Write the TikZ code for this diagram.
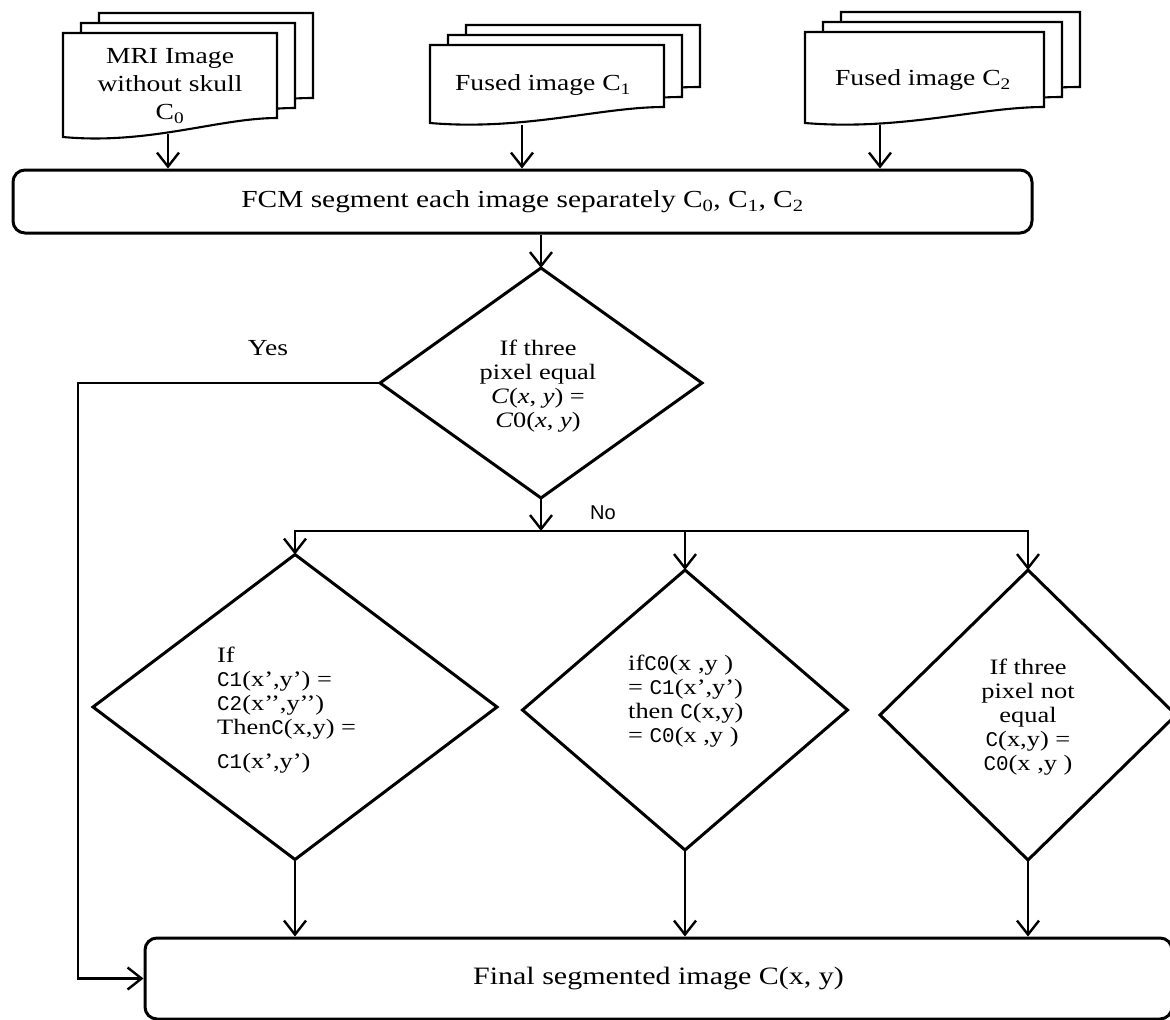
\documentclass[tikz,border=0pt]{standalone}
\usepackage{fontspec}
\setmainfont[FakeStretch=1.2]{Liberation Serif}
\newfontfamily\labelsans{Liberation Sans}
\newfontfamily\codefont[Scale=0.95]{Liberation Mono}
\newcommand\cdf[1]{{\codefont #1}}
\usetikzlibrary{arrows.meta,shapes.geometric}

% one sheet of a stacked-document symbol: left, top, right, bottom-left, bottom-right
\newcommand\pagesheet[5]{%
  \pgfmathsetmacro\wavea{#3-0.27*(#3-#1)}%
  \pgfmathsetmacro\waveb{#1+0.40*(#3-#1)}%
  \pgfmathsetmacro\wavelow{#4+8}%
  \draw[docline] (#1,#2) -- (#3,#2) -- (#3,#5)
    .. controls (\wavea,#5) and (\waveb,\wavelow) .. (#1,#4) -- cycle;
}
% three stacked sheets, back to front
\newcommand\docstack[5]{%
  \pagesheet{#1+36}{#2-20}{#3+36}{#4-20}{#5-20}%
  \pagesheet{#1+18}{#2-10}{#3+18}{#4-10}{#5-10}%
  \pagesheet{#1}{#2}{#3}{#4}{#5}%
}

\begin{document}
\begin{tikzpicture}[x=1pt,y=-1pt,
  docline/.style={draw=black,line width=2.1pt,fill=white,line join=miter},
  doctext/.style={align=center,inner sep=0pt,font=\fontsize{23}{28}\selectfont},
  procbox/.style={draw=black,line width=3pt,rounded corners=12pt,fill=white,
    inner sep=0pt,font=\fontsize{24.5}{28}\selectfont},
  decision/.style={draw=black,line width=3pt,diamond,inner sep=0pt,outer sep=0pt},
  qtext/.style={inner sep=0pt,font=\fontsize{22}{24}\selectfont},
  flow/.style={draw=black,line width=2.8pt,
    -{Straight Barb[length=14pt,width=22pt,line width=2.4pt]}},
  yeslabel/.style={inner sep=0pt,font=\fontsize{23}{26}\selectfont},
  nolabel/.style={inner sep=0pt,font=\labelsans\fontsize{20}{24}\selectfont}
]
\fill[white] (0,0) rectangle (1170,1020);
\useasboundingbox (0,0) rectangle (1170,1020);

% input documents
\docstack{63}{33}{277}{137}{118}
\docstack{430}{45}{664}{123}{107}
\docstack{805}{32}{1044}{123}{107}

\node[doctext] (doc0) at (170,86) {MRI Image\\without skull\\C\textsubscript{0}};
\node[doctext] (doc1) at (543,85) {Fused image C\textsubscript{1}};
\node[doctext] (doc2) at (923,80) {Fused image C\textsubscript{2}};

\coordinate (doc0out) at (168,134);
\coordinate (doc1out) at (522,125);
\coordinate (doc2out) at (880,125);

% segmentation step
\node[procbox,minimum width=1019pt,minimum height=63pt] (fcm) at (522.5,201.5)
  {FCM segment each image separately C\textsubscript{0}, C\textsubscript{1}, C\textsubscript{2}};

\draw[flow] (doc0out) -- (doc0out |- fcm.north);
\draw[flow] (doc1out) -- (doc1out |- fcm.north);
\draw[flow] (doc2out) -- (doc2out |- fcm.north);

% first decision
\node[decision,minimum width=322pt,minimum height=230pt] (q0) at (541,383) {};
\node[qtext,align=center] (q0txt) at (538,386)
  {If three\\pixel equal\\\textit{C}(\textit{x}, \textit{y}) =\\\textit{C}0(\textit{x}, \textit{y})};
\draw[flow] (q0.north |- fcm.south) -- (q0.north);

% second row of decisions
\node[decision,minimum width=404pt,minimum height=305pt] (q1) at (295,707) {};
\node[decision,minimum width=325pt,minimum height=280pt] (q2) at (685,710) {};
\node[decision,minimum width=296pt,minimum height=290pt] (q3) at (1028,715) {};

\node[qtext,align=left,anchor=west] (q1txt) at (217,710)
  {If\\\cdf{C1}(x’,y’) =\\\cdf{C2}(x’’,y’’)\\Then\cdf{C}(x,y) =\\[10pt]\cdf{C1}(x’,y’)};
\node[qtext,align=left,anchor=west] (q2txt) at (628,701)
  {if\cdf{C0}(x ,y )\\= \cdf{C1}(x’,y’)\\then \cdf{C}(x,y)\\= \cdf{C0}(x ,y )};
\node[qtext,align=center] (q3txt) at (1028,717)
  {If three\\pixel not\\equal\\\cdf{C}(x,y) =\\\cdf{C0}(x ,y )};

% result
\node[procbox,minimum width=1027pt,minimum height=81pt,font=\fontsize{25}{28}\selectfont]
  (final) at (658.5,978.5) {Final segmented image C(x, y)};

% branches
\coordinate (split) at (541,531);
\draw[flow] (q0.south) -- (split);
\draw[flow] (q2.north |- split) -| (q1.north);
\draw[flow] (q2.north |- split) -| (q3.north);
\draw[flow] (q2.north |- split) -- (q2.north);

\draw[flow] (q0.west) -- ++(-302,0) |- (final.west);

\draw[flow] (q1.south) -- (q1.south |- final.north);
\draw[flow] (q2.south) -- (q2.south |- final.north);
\draw[flow] (q3.south) -- (q3.south |- final.north);

\node[yeslabel] (yes) at (268,348) {Yes};
\node[nolabel] (no) at (603,513) {No};
\end{tikzpicture}
\end{document}
